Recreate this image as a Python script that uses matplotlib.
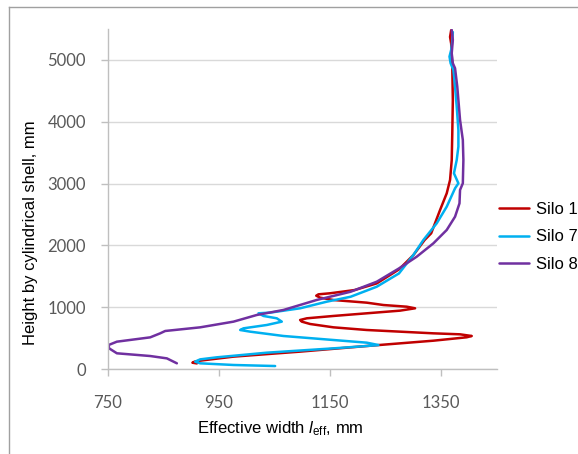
import matplotlib
matplotlib.use("Agg")
import matplotlib.pyplot as plt
from matplotlib.lines import Line2D

# ---- data ----
silo1_width = [910, 902, 906, 916, 976, 1096, 1216, 1336, 1396, 1405, 1384, 1336, 1276, 1216,
               1156, 1114, 1099, 1096, 1108, 1156, 1216, 1276, 1303, 1288, 1246, 1216, 1156,
               1132, 1125, 1129, 1150, 1194, 1234, 1274, 1300, 1320, 1332, 1348, 1360, 1366,
               1369, 1370, 1371, 1370, 1368, 1366, 1368]
silo1_height = [90, 102, 119, 135, 200, 281, 372, 458, 513, 534, 561, 577, 604, 631,
                674, 728, 766, 793, 820, 858, 901, 944, 982, 1008, 1035, 1073, 1116,
                1154, 1186, 1208, 1225, 1277, 1385, 1611, 1843, 2085, 2195, 2572, 2842, 3058,
                3378, 3809, 4348, 4887, 5264, 5372, 5480]

silo7_width = [1051, 976, 916, 907, 916, 946, 1036, 1156, 1216, 1237, 1216, 1156, 1066, 1006,
               988, 994, 1036, 1063, 1054, 1030, 1021, 1042, 1096, 1144, 1187, 1234, 1274,
               1300, 1318, 1342, 1360, 1375, 1381, 1373, 1378, 1381, 1381, 1378, 1375, 1372,
               1367, 1365, 1368, 1370, 1371]
silo7_height = [48, 65, 92, 119, 156, 189, 264, 334, 372, 388, 426, 469, 534, 604,
                631, 658, 712, 766, 820, 858, 901, 912, 982, 1089, 1169, 1331, 1546,
                1845, 2087, 2357, 2626, 2923, 3004, 3166, 3381, 3597, 3867, 4245, 4568, 4838,
                4946, 5054, 5161, 5300, 5450]

silo8_width = [874, 856, 826, 766, 752, 751, 766, 826, 844, 853, 916, 976, 1018, 1066,
               1126, 1187, 1234, 1274, 1306, 1336, 1360, 1375, 1383, 1384, 1389, 1390,
               1389, 1384, 1379, 1375, 1371, 1369, 1371, 1369]
silo8_height = [92, 172, 210, 254, 334, 388, 442, 512, 577, 615, 674, 766, 874, 955,
                1117, 1250, 1412, 1627, 1817, 2033, 2249, 2464, 2680, 2896, 3004, 3381,
                3705, 4029, 4568, 4865, 4946, 5107, 5323, 5485]

series_names = ["Silo 1", "Silo 7", "Silo 8"]
series_colors = ["#c00000", "#00b0f0", "#7030a0"]
x_ticks = [750, 950, 1150, 1350]
y_ticks = [0, 1000, 2000, 3000, 4000, 5000]

# ---- figure ----
W, H = 578, 454
fig = plt.figure(figsize=(W / 100, H / 100), dpi=100)
plt.rcParams['mathtext.fontset'] = 'custom'
plt.rcParams['mathtext.rm'] = 'Liberation Sans'
plt.rcParams['mathtext.it'] = 'Liberation Sans:italic'

# outer border (left and top visible)
fig.add_artist(Line2D([9 / W, 9 / W], [0, 1 - 7 / H], transform=fig.transFigure,
                      color="#a0a0a0", lw=1))
fig.add_artist(Line2D([9 / W, 1.0], [1 - 7 / H, 1 - 7 / H], transform=fig.transFigure,
                      color="#a0a0a0", lw=1))

left, right = 108 / W, 496.7 / W
bottom, top = 85 / H, 425 / H
ax = fig.add_axes([left, bottom, right - left, top - bottom])

for xs, ys, name, c in zip([silo1_width, silo7_width, silo8_width],
                           [silo1_height, silo7_height, silo8_height],
                           series_names, series_colors):
    ax.plot(xs, ys, color=c, lw=1.8, label=name, solid_capstyle='round',
            solid_joinstyle='round')

ax.set_xlim(750, 1450)
ax.set_ylim(0, 5500)
ax.set_xticks(x_ticks)
ax.set_yticks(y_ticks)
ax.yaxis.grid(True, color="#d9d9d9", lw=1)
ax.set_axisbelow(True)
for s in ["top", "right"]:
    ax.spines[s].set_visible(False)
for s in ["left", "bottom"]:
    ax.spines[s].set_color("#bfbfbf")
    ax.spines[s].set_linewidth(1)
ax.tick_params(axis='both', colors="#bfbfbf", length=5, width=1, direction='out')
ax.tick_params(axis='x', pad=14)
ax.tick_params(axis='y', pad=11)
for lab in ax.get_xticklabels() + ax.get_yticklabels():
    lab.set_fontfamily("Lato")
    lab.set_fontsize(12)
    lab.set_color("#595959")

fig.text(31 / W, 1 - 233 / H, "Height by cylindrical shell, mm",
         fontfamily="Liberation Sans", fontsize=12, color="black",
         rotation=90, ha="center", va="center")

fig.text(280 / W, 1 - 429 / H, r"Effective width $\mathit{l}_{\mathrm{eff}}$, mm",
         fontfamily="Liberation Sans", fontsize=12, ha="center", va="center")

leg = fig.legend(loc="center left", bbox_to_anchor=(499 / W, 1 - 237 / H),
                 frameon=False, handlelength=1.8, handletextpad=0.45,
                 labelspacing=0.75, borderpad=0, borderaxespad=0,
                 prop={"family": "Liberation Sans", "size": 12})

fig.savefig("out.png", dpi=100)
